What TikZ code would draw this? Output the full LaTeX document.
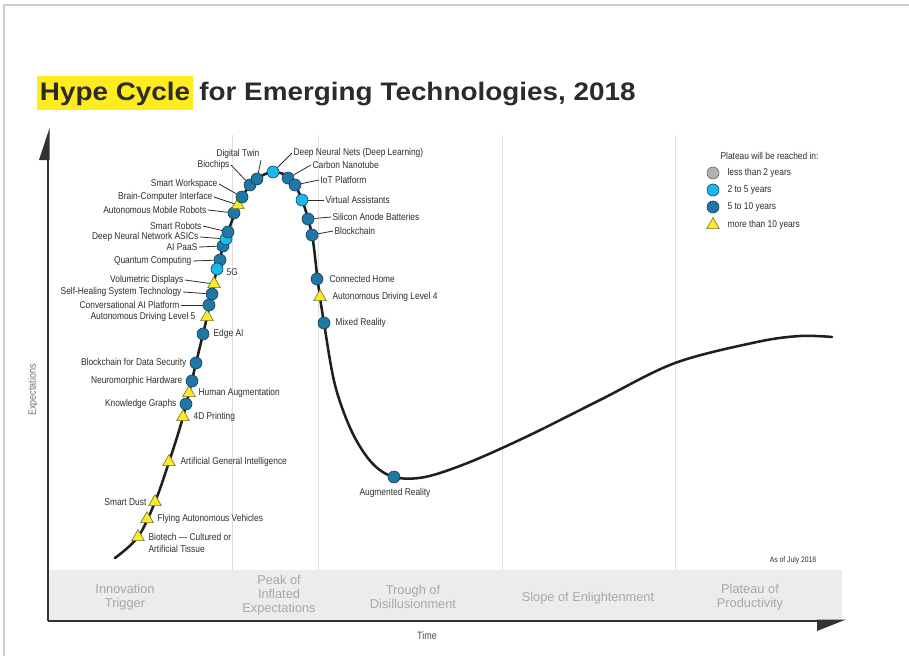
\documentclass[tikz,border=0pt]{standalone}
\usepackage{fontspec}
\setmainfont{Liberation Sans}
\newfontfamily\condfont[FakeStretch=0.85]{Liberation Sans}
\newfontfamily\titlefont[FakeStretch=1.1]{Liberation Sans}
\usepackage{tikz}
\usetikzlibrary{shapes.geometric}
\definecolor{hlyellow}{RGB}{255,235,30}
\definecolor{titlegray}{RGB}{43,43,43}
\definecolor{lblgray}{RGB}{45,45,45}
\definecolor{phasegray}{RGB}{168,168,168}
\definecolor{bandgray}{RGB}{236,236,236}
\definecolor{divgray}{RGB}{222,222,222}
\definecolor{framegray}{RGB}{205,205,205}
\definecolor{axisgray}{RGB}{50,50,50}
\definecolor{dkblue}{RGB}{30,120,165}
\definecolor{ltblue}{RGB}{25,185,235}
\definecolor{mdgray}{RGB}{178,178,178}
\definecolor{triyellow}{RGB}{250,236,40}
\definecolor{rimblue}{RGB}{25,60,85}
\definecolor{tririm}{RGB}{120,110,30}

\tikzset{
  lbl/.style={font=\condfont\fontsize{7.4}{8.4}\selectfont, text=lblgray, inner sep=1pt},
  phase/.style={font=\fontsize{9.6}{10.5}\selectfont, text=phasegray, align=center},
  techdot/.style={circle, draw=rimblue, line width=0.45pt, minimum size=9pt, inner sep=0pt},
  undertwo/.style={techdot, fill=mdgray, draw=black!60},
  twofive/.style={techdot, fill=ltblue},
  fiveten/.style={techdot, fill=dkblue},
  tenplus/.style={regular polygon, regular polygon sides=3, draw=tririm, line width=0.45pt,
    fill=triyellow, minimum size=11pt, inner sep=0pt},
  leader/.style={draw=lblgray, line width=0.6pt},
  hypecurve/.style={line width=1.9pt, draw=black!88, line cap=round},
  axis/.style={line width=2.2pt, draw=axisgray}
}

\begin{document}
\begin{tikzpicture}[x=0.75pt, y=-0.75pt]
  \useasboundingbox (0,0) rectangle (909,656);

  \draw[framegray, line width=1pt] (4,656) -- (4,5) -- (909,5);

  \node[font=\titlefont\bfseries\fontsize{19}{22}\selectfont, text=titlegray, fill=hlyellow,
    anchor=base west, inner xsep=2pt, inner ysep=2pt, text height=16.75pt, text depth=4.75pt]
    (hype) at (37,101) {Hype Cycle};
  \node[font=\titlefont\bfseries\fontsize{19}{22}\selectfont, text=titlegray, anchor=base west,
    inner sep=0pt] (title) at ([xshift=4.5pt]hype.base east) {for Emerging Technologies, 2018};

  \fill[bandgray] (48,570) rectangle (842,620);
  \draw[divgray, line width=0.6pt]
    (232,135) -- (232,570) (318,135) -- (318,570)
    (502,135) -- (502,570) (675,135) -- (675,570);

  \draw[axis] (48,621) -- (48,150);
  \fill[axisgray] (49.5,128) -- (49.5,160) -- (39,160) -- cycle;
  \draw[axis] (48,621) -- (830,621);
  \fill[axisgray] (817,619.5) -- (846,619.5) -- (817,631) -- cycle;

  \node[phase] (pInno) at (125,597) {Innovation\\Trigger};
  \node[phase] (pPeak) at (279,595) {Peak of\\Inflated\\Expectations};
  \node[phase] (pTrough) at (413,597) {Trough of\\Disillusionment};
  \node[phase] (pSlope) at (588,598) {Slope of Enlightenment};
  \node[phase] (pPlat) at (750,597) {Plateau of\\Productivity};

  \node[lbl, text=black!70, font=\condfont\fontsize{8}{9}\selectfont] (time) at (427,636) {Time};
  \node[lbl, text=black!55, rotate=90, font=\condfont\fontsize{8}{9}\selectfont] (expect) at (33,390) {Expectations};
  \node[lbl, font=\condfont\fontsize{6}{7}\selectfont] (asof) at (793,560) {As of July 2018};

  \draw[hypecurve] plot[smooth, tension=0.55] coordinates {
    (115,558) (138,537) (155,502) (169,462) (183,417) (196,363) (207,317)
    (217,269) (228,232) (242,197) (257,179) (273,172) (290,178) (302,200)
    (312,235) (318,283) (324,323) (335,385) (352,432) (372,463) (394,477)
    (425,477) (470,462) (530,435) (600,400) (675,363) (757,342) (800,336) (832,337)};

  % rising side
  \node[tenplus] (mBT) at (138,537) {};
  \node[tenplus] (mFAV) at (147,519) {};
  \node[tenplus] (mSD) at (155,502) {};
  \node[tenplus] (mAGI) at (169,462) {};
  \node[tenplus] (m4D) at (183,417) {};
  \node[fiveten] (mKG) at (186,404) {};
  \node[tenplus] (mHA) at (189,393) {};
  \node[fiveten] (mNH) at (192,381) {};
  \node[fiveten] (mBDS) at (196,363) {};
  \node[fiveten] (mEdge) at (203,334) {};
  \node[tenplus] (mADL5) at (207,317) {};
  \node[fiveten] (mCAI) at (209,305) {};
  \node[fiveten] (mSH) at (212,294) {};
  \node[tenplus] (mVD) at (214,284) {};
  \node[fiveten] (mQC) at (220,260) {};
  \node[twofive] (m5G) at (217,269) {};
  \node[fiveten] (mPaaS) at (223,246) {};
  \node[twofive] (mDNA) at (226,239) {};
  \node[fiveten] (mSR) at (228,232) {};
  \node[fiveten] (mAMR) at (234,213) {};
  \node[tenplus] (mBCI) at (238,205) {};
  \node[fiveten] (mSW) at (242,197) {};
  \node[fiveten] (mBio) at (250,185) {};
  \node[fiveten] (mDT) at (257,179) {};
  % peak and falling side
  \node[twofive] (mDNN) at (273,172) {};
  \node[fiveten] (mCN) at (288,178) {};
  \node[fiveten] (mIoT) at (295,185) {};
  \node[twofive] (mVA) at (302,200) {};
  \node[fiveten] (mSAB) at (308,219) {};
  \node[fiveten] (mBC) at (312,235) {};
  \node[fiveten] (mCH) at (317,279) {};
  \node[tenplus] (mADL4) at (320,297) {};
  \node[fiveten] (mMR) at (324,323) {};
  \node[fiveten] (mAR) at (394,477) {};

  \node[lbl, anchor=west, align=left] (lBT) at (147,543) {Biotech \textemdash\ Cultured or\\Artificial Tissue};
  \node[lbl, anchor=west] (lFAV) at (156,519) {Flying Autonomous Vehicles};
  \node[lbl, anchor=east] (lSD) at (148,502) {Smart Dust};
  \node[lbl, anchor=west] (lAGI) at (179,462) {Artificial General Intelligence};
  \node[lbl, anchor=west] (l4D) at (192,417) {4D Printing};
  \node[lbl, anchor=east] (lKG) at (178,404) {Knowledge Graphs};
  \node[lbl, anchor=west] (lHA) at (197,393) {Human Augmentation};
  \node[lbl, anchor=east] (lNH) at (184,381) {Neuromorphic Hardware};
  \node[lbl, anchor=east] (lBDS) at (188,363) {Blockchain for Data Security};
  \node[lbl, anchor=west] (lEdge) at (212,334) {Edge AI};
  \node[lbl, anchor=east] (lADL5) at (197,317) {Autonomous Driving Level 5};
  \node[lbl, anchor=east] (lCAI) at (181,305) {Conversational AI Platform};
  \node[lbl, anchor=east] (lSH) at (183,292) {Self-Healing System Technology};
  \node[lbl, anchor=east] (lVD) at (185,280) {Volumetric Displays};
  \node[lbl, anchor=west] (l5G) at (225,272) {5G};
  \node[lbl, anchor=east] (lQC) at (193,261) {Quantum Computing};
  \node[lbl, anchor=east] (lPaaS) at (199,247) {AI PaaS};
  \node[lbl, anchor=east] (lDNA) at (200,237) {Deep Neural Network ASICs};
  \node[lbl, anchor=east] (lSR) at (203,226) {Smart Robots};
  \node[lbl, anchor=east] (lAMR) at (208,210) {Autonomous Mobile Robots};
  \node[lbl, anchor=east] (lBCI) at (214,197) {Brain-Computer Interface};
  \node[lbl, anchor=east] (lSW) at (219,184) {Smart Workspace};
  \node[lbl, anchor=east] (lBio) at (231,165) {Biochips};
  \node[lbl, anchor=east] (lDT) at (261,154) {Digital Twin};

  \node[lbl, anchor=west] (lDNN) at (292,153) {Deep Neural Nets (Deep Learning)};
  \node[lbl, anchor=west] (lCN) at (311,165) {Carbon Nanotube};
  \node[lbl, anchor=west] (lIoT) at (319,180) {IoT Platform};
  \node[lbl, anchor=west] (lVA) at (324,200) {Virtual Assistants};
  \node[lbl, anchor=west] (lSAB) at (331,217) {Silicon Anode Batteries};
  \node[lbl, anchor=west] (lBC) at (333,231) {Blockchain};
  \node[lbl, anchor=west] (lCH) at (328,279) {Connected Home};
  \node[lbl, anchor=west] (lADL4) at (331,297) {Autonomous Driving Level 4};
  \node[lbl, anchor=west] (lMR) at (334,323) {Mixed Reality};
  \node[lbl] (lAR) at (395,493) {Augmented Reality};

  \draw[leader]
    (lDT.south east) edge (mDT)
    (lBio.east) edge (mBio)
    (lSW.east) edge (mSW)
    (lBCI.east) edge (mBCI)
    (lAMR.east) edge (mAMR)
    (lSR.east) edge (mSR)
    (lDNA.east) edge (mDNA)
    (lPaaS.east) edge (mPaaS)
    (lQC.east) edge (mQC)
    (lVD.east) edge (mVD)
    (lSH.east) edge (mSH)
    (lCAI.east) edge (mCAI);

  \draw[leader]
    (lDNN.west) edge (mDNN)
    (lCN.west) edge (mCN)
    (lIoT.west) edge (mIoT)
    (lVA.west) edge (mVA)
    (lSAB.west) edge (mSAB)
    (lBC.west) edge (mBC);

  \node[lbl, anchor=west] (legHead) at (719,156) {Plateau will be reached in:};
  \node[undertwo] (legA) at (713,173) {};
  \node[lbl, anchor=west] (legAt) at (726,173) {less than 2 years};
  \node[twofive] (legB) at (713,190) {};
  \node[lbl, anchor=west] (legBt) at (726,190) {2 to 5 years};
  \node[fiveten] (legC) at (713,207) {};
  \node[lbl, anchor=west] (legCt) at (726,207) {5 to 10 years};
  \node[tenplus] (legD) at (713,225) {};
  \node[lbl, anchor=west] (legDt) at (726,225) {more than 10 years};
\end{tikzpicture}
\end{document}
